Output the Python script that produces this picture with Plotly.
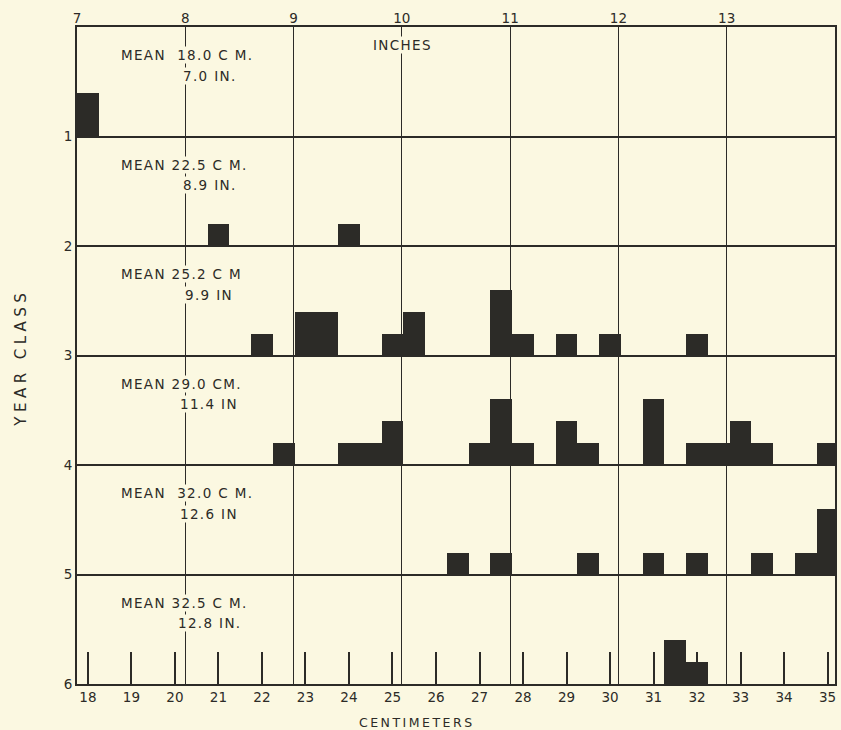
import plotly.graph_objects as go

# ---- data ----
year_classes = [1, 2, 3, 4, 5, 6]
y1_cm = [18]
y1_n = [2]
y2_cm = [21, 24]
y2_n = [1, 1]
y3_cm = [22, 23, 23.5, 25, 25.5, 27.5, 28, 29, 30, 32]
y3_n = [1, 2, 2, 1, 2, 3, 1, 1, 1, 1]
y4_cm = [22.5, 24, 24.5, 25, 27, 27.5, 28, 29, 29.5, 31, 32, 32.5, 33, 33.5, 35]
y4_n = [1, 1, 1, 2, 1, 3, 1, 2, 1, 3, 1, 1, 2, 1, 1]
y5_cm = [26.5, 27.5, 29.5, 31, 32, 33.5, 34.5, 35]
y5_n = [1, 1, 1, 1, 1, 1, 1, 3]
y6_cm = [31.5, 32]
y6_n = [2, 1]

mean_cm_text = ["MEAN  18.0 C M.", "MEAN 22.5 C M.", "MEAN 25.2 C M",
                "MEAN 29.0 CM.", "MEAN  32.0 C M.", "MEAN 32.5 C M."]
mean_in_text = ["7.0 IN.", "8.9 IN.", "9.9 IN", "11.4 IN", "12.6 IN", "12.8 IN."]

cm_ticks = list(range(18, 36))
inch_ticks = list(range(7, 14))

rows_cm = [y1_cm, y2_cm, y3_cm, y4_cm, y5_cm, y6_cm]
rows_n = [y1_n, y2_n, y3_n, y4_n, y5_n, y6_n]

BG = "#fbf8e1"
INK = "#2c2b27"
UNIT = 0.2  # height of one fish in a year-class band
FONT = "DejaVu Sans"


def spaced(s, sep="\u200a"):
    return sep.join(list(s))


fig = go.Figure()
for yc, xs, ns in zip(year_classes, rows_cm, rows_n):
    fig.add_trace(go.Bar(
        x=xs, y=[-n * UNIT for n in ns], base=yc, width=0.5,
        marker=dict(color=INK, line=dict(width=0)),
        xaxis="x", yaxis="y", showlegend=False, hoverinfo="x"))

# invisible trace for the inch axis
fig.add_trace(go.Scatter(x=[7, 14], y=[0, 0], xaxis="x2", yaxis="y",
                         mode="markers", marker=dict(opacity=0),
                         showlegend=False, hoverinfo="skip"))

annotations = []
for yc, t1, t2 in zip(year_classes, mean_cm_text, mean_in_text):
    annotations.append(dict(x=18.73, y=yc - 1 + 0.258, xref="x", yref="y",
                            text=spaced(t1), showarrow=False, xanchor="left",
                            yanchor="middle", bgcolor=BG, borderpad=0,
                            font=dict(family=FONT, size=13.5, color=INK)))
    annotations.append(dict(x=20.78, y=yc - 1 + 0.443, xref="x", yref="y",
                            text=spaced(t2), showarrow=False, xanchor="center",
                            yanchor="middle", bgcolor=BG, borderpad=0,
                            font=dict(family=FONT, size=13.5, color=INK)))

annotations.append(dict(x=10.0, y=0.167, xref="x2", yref="y", text=spaced("INCHES"),
                        showarrow=False, bgcolor=BG, borderpad=0,
                        font=dict(family=FONT, size=13.5, color=INK)))
annotations.append(dict(x=25.54, y=-0.059, xref="x", yref="paper",
                        text=spaced("CENTIMETERS", "\u2009"), showarrow=False,
                        yanchor="middle",
                        font=dict(family=FONT, size=12.5, color=INK)))
annotations.append(dict(x=-0.088, y=0.494, xref="paper", yref="paper",
                        text=spaced("YEAR CLASS", "\u2009\u200a"), showarrow=False,
                        textangle=-90, font=dict(family=FONT, size=15, color=INK)))

fig.update_layout(
    width=841, height=730,
    margin=dict(l=77, r=4, t=27, b=46),
    paper_bgcolor=BG, plot_bgcolor=BG,
    bargap=0, barmode="overlay",
    annotations=annotations,
    xaxis=dict(range=[17.75, 35.17], tickvals=cm_ticks,
               ticktext=[str(v) for v in cm_ticks],
               ticks="inside", ticklen=32, tickwidth=1.5, tickcolor=INK,
               showgrid=False, zeroline=False,
               showline=True, linecolor=INK, linewidth=2, mirror=True,
               tickfont=dict(family=FONT, size=13.5, color=INK)),
    xaxis2=dict(range=[7, 14], overlaying="x", side="top", anchor="y",
                tickvals=inch_ticks, ticktext=[str(v) for v in inch_ticks],
                showgrid=True, gridcolor=INK, gridwidth=1,
                zeroline=False, showline=False, ticks="",
                tickfont=dict(family=FONT, size=13.5, color=INK)),
    yaxis=dict(range=[6, 0], tickvals=year_classes,
               ticktext=[str(v) for v in year_classes],
               showgrid=True, gridcolor=INK, gridwidth=1.6,
               zeroline=False, ticks="",
               showline=True, linecolor=INK, linewidth=2, mirror=True,
               tickfont=dict(family=FONT, size=13.5, color=INK)),
)

fig.write_html("out.html", config={"displayModeBar": False},
               post_script="document.body.style.margin='0';"
                           "document.body.style.overflow='hidden';")
